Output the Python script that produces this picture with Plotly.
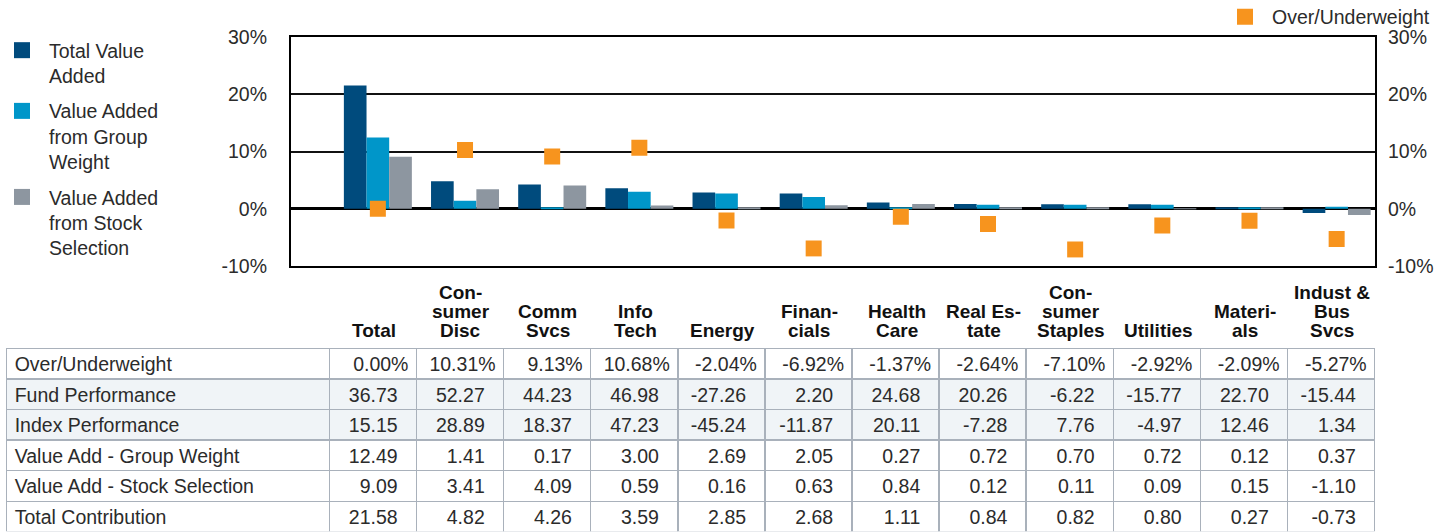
import plotly.graph_objects as go

W, H = 1450, 532

categories = ["Total", "Consumer Disc", "Comm Svcs", "Info Tech", "Energy", "Financials",
              "Health Care", "Real Estate", "Consumer Staples", "Utilities", "Materials",
              "Indust & Bus Svcs"]
category_labels = ["Total", "Con-<br>sumer<br>Disc", "Comm<br>Svcs", "Info<br>Tech", "Energy",
                   "Finan-<br>cials", "Health<br>Care", "Real Es-<br>tate", "Con-<br>sumer<br>Staples",
                   "Utilities", "Materi-<br>als", "Indust &<br>Bus<br>Svcs"]

over_under = [0.00, 10.31, 9.13, 10.68, -2.04, -6.92, -1.37, -2.64, -7.10, -2.92, -2.09, -5.27]
fund_perf = [36.73, 52.27, 44.23, 46.98, -27.26, 2.20, 24.68, 20.26, -6.22, -15.77, 22.70, -15.44]
index_perf = [15.15, 28.89, 18.37, 47.23, -45.24, -11.87, 20.11, -7.28, 7.76, -4.97, 12.46, 1.34]
group_weight = [12.49, 1.41, 0.17, 3.00, 2.69, 2.05, 0.27, 0.72, 0.70, 0.72, 0.12, 0.37]
stock_sel = [9.09, 3.41, 4.09, 0.59, 0.16, 0.63, 0.84, 0.12, 0.11, 0.09, 0.15, -1.10]
total_contrib = [21.58, 4.82, 4.26, 3.59, 2.85, 2.68, 1.11, 0.84, 0.82, 0.80, 0.27, -0.73]

row_labels = ["Over/Underweight", "Fund Performance", "Index Performance",
              "Value Add - Group Weight", "Value Add - Stock Selection", "Total Contribution"]

series_names = ["Total Value<br>Added", "Value Added<br>from Group<br>Weight",
                "Value Added<br>from Stock<br>Selection"]
series_colors = ["#004b7d", "#0096c9", "#8d96a0"]
marker_name = "Over/Underweight"
marker_color = "#f7941e"

y_tickvals = [-10, 0, 10, 20, 30]
y_ticktext = ["-10%", "0%", "10%", "20%", "30%"]

FONT = "Liberation Sans"
TXT = "#2b2b2b"
FS = 19.5


def px_x(x):
    return x / W


def px_y(y):
    return 1 - y / H


fig = go.Figure()

for vals, name, col in zip([total_contrib, group_weight, stock_sel], series_names, series_colors):
    fig.add_trace(go.Bar(x=categories, y=vals, name=name, marker=dict(color=col, line=dict(width=0)),
                         showlegend=False, xaxis="x", yaxis="y"))
    # legend proxy
    fig.add_trace(go.Scatter(x=[None], y=[None], mode="markers", name=name,
                             marker=dict(symbol="square", size=17, color=col),
                             legendgroup=name, legend="legend"))

fig.add_trace(go.Scatter(x=categories, y=over_under, mode="markers", name=marker_name,
                         marker=dict(symbol="square", size=16, color=marker_color, line=dict(width=0)),
                         yaxis="y2", legend="legend2"))

# table
pad = "\u00a0\u00a0"
header_vals = [row_labels[0]] + [f"{v:.2f}%" for v in over_under]
cell_cols = [row_labels[1:]]
for i in range(len(categories)):
    cell_cols.append([f"{r[i]:.2f}" + pad for r in [fund_perf, index_perf, group_weight, stock_sel, total_contrib]])

light = "#f0f4f7"
fill_cols = [[light, light, "white", "white", "white"]] * (len(categories) + 1)
aligns = ["left"] + ["right"] * len(categories)
row_h = 30.6

fig.add_trace(go.Table(
    domain=dict(x=[px_x(6.7), px_x(1375)], y=[0, px_y(348.3)]),
    columnwidth=[322.6] + [87.1] * len(categories),
    header=dict(values=header_vals, align=aligns, height=row_h,
                fill=dict(color="white"), line=dict(color="#a9b1bb", width=1.5),
                font=dict(family=FONT, size=FS, color=TXT)),
    cells=dict(values=cell_cols, align=aligns, height=row_h,
               fill=dict(color=fill_cols), line=dict(color="#a9b1bb", width=1.5),
               font=dict(family=FONT, size=FS, color=TXT)),
))

# category header labels (tight line spacing)
annotations = []
base_line = 336.7
line_step = 19
for cat, lab in zip(categories, category_labels):
    lines = lab.split("<br>")
    n = len(lines)
    for j, ln in enumerate(lines):
        baseline = base_line - (n - 1 - j) * line_step
        annotations.append(dict(x=cat, xref="x", y=px_y(baseline - 6.7), yref="paper",
                                yanchor="middle", xanchor="center", xshift=-4.3,
                                text=f"<b>{ln}</b>", showarrow=False,
                                font=dict(family=FONT, size=19, color="#111")))

fig.update_layout(
    width=W, height=H,
    margin=dict(l=0, r=0, t=0, b=0, autoexpand=False),
    paper_bgcolor="white", plot_bgcolor="white",
    font=dict(family=FONT, size=FS, color=TXT),
    barmode="group", bargap=0.22, bargroupgap=0,
    xaxis=dict(domain=[px_x(290.7), px_x(1375)], type="category", categoryorder="array",
               categoryarray=categories, range=[-1.0, 11.44], showticklabels=False,
               ticks="", showgrid=False, showline=True, mirror=True, linecolor="black",
               linewidth=1.5, zeroline=False, automargin=False),
    yaxis=dict(domain=[px_y(266), px_y(37.3)], range=[-10, 30], tickvals=y_tickvals,
               ticktext=y_ticktext, showgrid=True, gridcolor="#111", gridwidth=1.5,
               zeroline=True, zerolinecolor="black", zerolinewidth=2.5,
               showline=True, mirror=True, linecolor="black", linewidth=1.5, ticks="",
               ticklabelstandoff=18, tickfont=dict(size=FS, color=TXT), automargin=False),
    yaxis2=dict(overlaying="y", side="right", range=[-10, 30], tickvals=y_tickvals,
                ticktext=y_ticktext, showgrid=False, zeroline=False, showline=False, ticks="",
                ticklabelstandoff=12, tickfont=dict(size=FS, color=TXT), anchor="x",
                automargin=False),
    legend=dict(x=px_x(-5), y=px_y(31), xanchor="left", yanchor="top", valign="top",
                itemsizing="trace", itemwidth=44, tracegroupgap=7, bgcolor="rgba(0,0,0,0)",
                font=dict(family=FONT, size=FS, color=TXT)),
    legend2=dict(x=px_x(1218), y=px_y(-2.5), xanchor="left", yanchor="top", valign="top",
                 itemsizing="trace", itemwidth=44, bgcolor="rgba(0,0,0,0)",
                 font=dict(family=FONT, size=FS, color=TXT)),
    annotations=annotations,
    showlegend=True,
)

fig.write_html("out.html", config={"displayModeBar": False},
               post_script="document.body.style.margin='0';")
